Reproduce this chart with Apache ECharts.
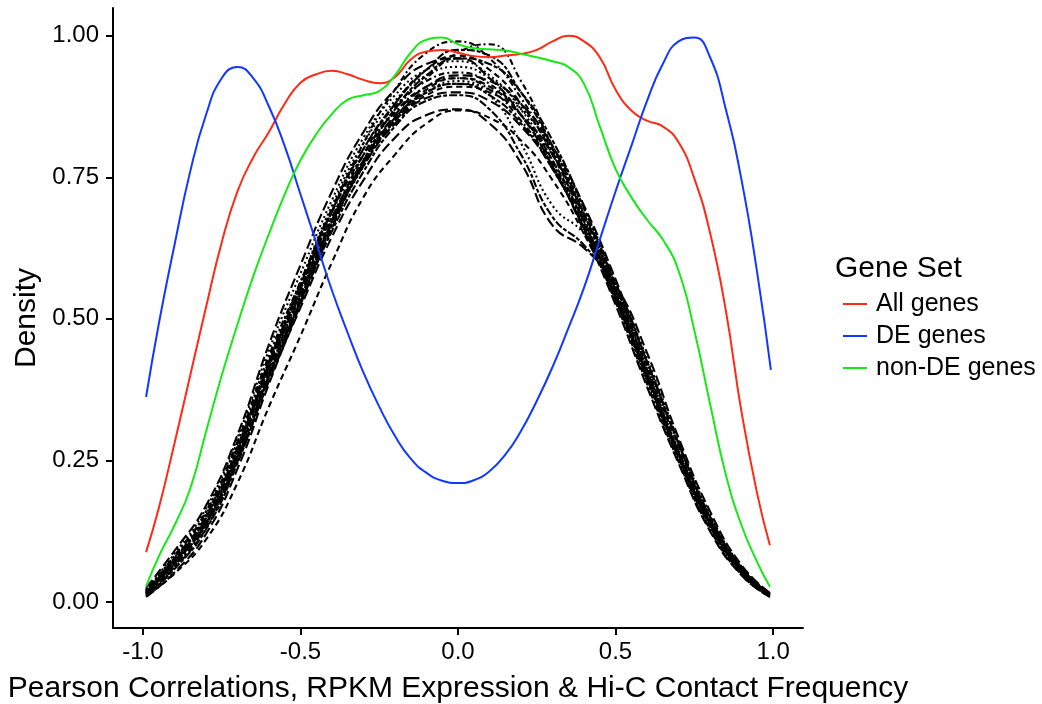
<!DOCTYPE html>
<html><head><meta charset="utf-8">
<script src="https://cdn.jsdelivr.net/npm/echarts@6/dist/echarts.min.js"></script>
<style>html,body{margin:0;padding:0;background:#fff}#c{width:1042px;height:704px}</style>
</head><body><div id="c"></div>
<script>
// X positions of the colored density curves
const allX = [-0.99,-0.95,-0.9,-0.85,-0.8,-0.75,-0.7,-0.65,-0.6,-0.55,-0.5,-0.45,-0.4,-0.35,-0.3,-0.25,-0.2,-0.15,-0.1,-0.05,0,0.05,0.1,0.15,0.2,0.25,0.3,0.35,0.4,0.45,0.5,0.55,0.6,0.65,0.7,0.75,0.8,0.85,0.9,0.95,0.99];
const allGenes = [0.088,0.165,0.28,0.40,0.52,0.635,0.725,0.785,0.83,0.88,0.917,0.932,0.938,0.932,0.922,0.916,0.927,0.958,0.972,0.975,0.97,0.964,0.962,0.965,0.968,0.975,0.99,1.0,0.99,0.962,0.905,0.868,0.85,0.84,0.812,0.748,0.652,0.515,0.335,0.19,0.1];
const nonDEGenes = [0.027,0.08,0.135,0.20,0.30,0.40,0.49,0.575,0.65,0.72,0.78,0.826,0.862,0.887,0.895,0.902,0.93,0.97,0.993,0.997,0.985,0.978,0.976,0.974,0.968,0.962,0.955,0.945,0.915,0.84,0.765,0.715,0.675,0.64,0.585,0.48,0.35,0.225,0.135,0.07,0.027];
const deX = [-0.99,-0.95,-0.9,-0.85,-0.8,-0.75,-0.7,-0.65,-0.6,-0.55,-0.5,-0.45,-0.4,-0.35,-0.3,-0.25,-0.2,-0.15,-0.1,-0.05,0,0.05,0.1,0.15,0.2,0.25,0.3,0.35,0.4,0.45,0.5,0.55,0.6,0.65,0.7,0.75,0.8,0.85,0.9,0.95,0.993];
const deGenes = [0.362,0.49,0.63,0.76,0.86,0.925,0.945,0.925,0.875,0.805,0.72,0.635,0.55,0.475,0.405,0.345,0.293,0.253,0.228,0.214,0.21,0.215,0.231,0.26,0.302,0.355,0.415,0.483,0.555,0.64,0.725,0.805,0.885,0.95,0.99,0.997,0.962,0.87,0.745,0.58,0.41];

// Permutation curves (black, dashed)
const permX = [-0.99,-0.9,-0.8,-0.7,-0.6,-0.5,-0.4,-0.3,-0.2,-0.1,0,0.1,0.2,0.3,0.4,0.5,0.6,0.7,0.8,0.9,0.99];
const perm01 = [0.015,0.07,0.14,0.26,0.41,0.54,0.67,0.775,0.855,0.905,0.925,0.91,0.86,0.78,0.67,0.545,0.40,0.262,0.14,0.055,0.012];
const perm02 = [0.022,0.085,0.165,0.29,0.445,0.58,0.71,0.82,0.895,0.94,0.955,0.93,0.87,0.78,0.665,0.535,0.39,0.252,0.13,0.05,0.01];
const perm03 = [0.012,0.062,0.135,0.255,0.405,0.55,0.69,0.81,0.905,0.97,0.99,0.96,0.89,0.795,0.68,0.55,0.40,0.258,0.138,0.054,0.012];
const perm04 = [0.018,0.072,0.14,0.25,0.39,0.52,0.645,0.745,0.82,0.86,0.87,0.845,0.775,0.665,0.625,0.56,0.44,0.29,0.16,0.065,0.016];
const perm05 = [0.016,0.068,0.138,0.255,0.40,0.53,0.655,0.76,0.84,0.885,0.895,0.87,0.79,0.68,0.63,0.555,0.425,0.28,0.15,0.06,0.014];
const perm06 = [0.01,0.05,0.11,0.21,0.345,0.47,0.60,0.715,0.79,0.845,0.868,0.855,0.815,0.745,0.65,0.535,0.40,0.265,0.145,0.058,0.013];
const perm07 = [0.02,0.078,0.155,0.275,0.425,0.565,0.70,0.81,0.885,0.93,0.945,0.925,0.875,0.795,0.685,0.555,0.41,0.268,0.142,0.056,0.012];
const perm08 = [0.014,0.066,0.142,0.265,0.42,0.56,0.695,0.8,0.875,0.92,0.935,0.915,0.86,0.775,0.66,0.53,0.385,0.248,0.128,0.048,0.009];
const perm09 = [0.025,0.09,0.17,0.295,0.455,0.595,0.725,0.83,0.905,0.95,0.96,0.925,0.86,0.77,0.655,0.525,0.38,0.245,0.125,0.047,0.009];
const perm10 = [0.011,0.058,0.128,0.245,0.395,0.53,0.665,0.78,0.87,0.93,0.96,0.95,0.9,0.815,0.695,0.56,0.41,0.265,0.14,0.055,0.012];
const perm11 = [0.017,0.073,0.148,0.27,0.42,0.55,0.675,0.775,0.85,0.895,0.91,0.9,0.86,0.79,0.685,0.56,0.415,0.275,0.15,0.06,0.014];
const perm12 = [0.013,0.064,0.136,0.252,0.40,0.535,0.665,0.77,0.85,0.9,0.915,0.905,0.87,0.8,0.695,0.565,0.42,0.28,0.152,0.062,0.015];
const perm13 = [0.02,0.08,0.158,0.28,0.43,0.565,0.69,0.79,0.87,0.925,0.97,0.985,0.92,0.8,0.675,0.54,0.395,0.255,0.133,0.051,0.011];
const perm14 = [0.016,0.07,0.145,0.265,0.415,0.545,0.67,0.77,0.845,0.89,0.9,0.885,0.84,0.765,0.66,0.54,0.40,0.265,0.145,0.058,0.013];
const perm15 = [0.019,0.076,0.152,0.272,0.425,0.555,0.68,0.78,0.855,0.9,0.915,0.895,0.845,0.765,0.66,0.535,0.395,0.26,0.138,0.053,0.011];
const perm16 = [0.012,0.06,0.13,0.248,0.398,0.535,0.672,0.79,0.88,0.94,0.965,0.94,0.88,0.79,0.672,0.54,0.395,0.255,0.135,0.052,0.011];
const perm17 = [0.015,0.068,0.14,0.26,0.405,0.54,0.665,0.77,0.85,0.9,0.92,0.895,0.81,0.70,0.65,0.56,0.43,0.285,0.155,0.062,0.015];
const perm18 = [0.021,0.082,0.16,0.283,0.435,0.565,0.69,0.79,0.865,0.91,0.925,0.905,0.85,0.77,0.665,0.54,0.40,0.262,0.138,0.054,0.012];
const perm19 = [0.009,0.052,0.12,0.235,0.385,0.525,0.66,0.775,0.86,0.91,0.93,0.92,0.88,0.805,0.70,0.57,0.425,0.28,0.15,0.06,0.014];
const perm20 = [0.018,0.074,0.15,0.27,0.42,0.555,0.69,0.80,0.88,0.94,0.975,0.965,0.90,0.805,0.685,0.55,0.405,0.262,0.138,0.054,0.012];
const perms = [perm01,perm02,perm03,perm04,perm05,perm06,perm07,perm08,perm09,perm10,perm11,perm12,perm13,perm14,perm15,perm16,perm17,perm18,perm19,perm20];

const xTicks = [-1, -0.5, 0, 0.5, 1];
const xTickLabels = ['-1.0', '-0.5', '0.0', '0.5', '1.0'];
const yTicks = [0, 0.25, 0.5, 0.75, 1];
const yTickLabels = ['0.00', '0.25', '0.50', '0.75', '1.00'];
const seriesNames = ['All genes', 'DE genes', 'non-DE genes'];

const FONT = 'Liberation Sans, Arial, Helvetica, sans-serif';
const dashes = [[6,4],[2,3],[2,3,6,3],[10,4],[4,2,8,2]];
const zip = (xs, ys) => xs.map((x, i) => [x, ys[i]]);
const lbl = (ticks, labels) => v => { const i = ticks.findIndex(t => Math.abs(t - v) < 1e-6); return i < 0 ? '' : labels[i]; };

const series = [];
perms.forEach((p, i) => {
  series.push({
    type: 'line', name: 'perm' + (i + 1), data: zip(permX, p), smooth: 0.5,
    symbol: 'none', silent: true,
    lineStyle: { color: '#000', width: 2.1, type: dashes[i % dashes.length] },
    z: 2
  });
});
const colors = ['#ff2a14', '#1238ff', '#16ea16'];
const colored = [[allX, allGenes], [deX, deGenes], [allX, nonDEGenes]];
colored.forEach(([xs, ys], k) => {
  series.push({ type: 'line', name: seriesNames[k], data: zip(xs, ys), smooth: 0.5, symbol: 'none', lineStyle: { color: colors[k], width: 2 }, itemStyle: { color: colors[k] }, z: 3 });
});

const chart = echarts.init(document.getElementById('c'), null, { renderer: 'canvas' });
chart.setOption({
  animation: false,
  backgroundColor: '#fff',
  textStyle: { fontFamily: FONT },
  grid: { left: 113, right: 239, top: 8, bottom: 76, containLabel: false, outerBoundsMode: 'none' },
  title: { text: 'Gene Set', left: 835, top: 254, padding: 0, textStyle: { fontFamily: FONT, fontSize: 30, fontWeight: 'normal', color: '#000' } },
  legend: {
    data: seriesNames, orient: 'vertical', left: 843, top: 290, padding: 0,
    icon: 'rect', itemWidth: 24, itemHeight: 2, itemGap: 4,
    textStyle: { fontFamily: FONT, fontSize: 25, color: '#000', lineHeight: 28, padding: [0, 0, 0, 4] },
    selectedMode: false
  },
  xAxis: {
    type: 'value', min: -1.095, max: 1.095,
    name: 'Pearson Correlations, RPKM Expression & Hi-C Contact Frequency',
    nameLocation: 'middle', nameGap: 46,
    nameTextStyle: { fontFamily: FONT, fontSize: 30, color: '#000' },
    axisLine: { show: true, onZero: false, lineStyle: { color: '#000', width: 2 } },
    axisTick: { show: true, customValues: xTicks, length: 7, lineStyle: { color: '#000', width: 2 } },
    axisLabel: { customValues: xTicks, formatter: lbl(xTicks, xTickLabels), fontSize: 24, color: '#000', margin: 12, fontFamily: FONT },
    splitLine: { show: false }
  },
  yAxis: {
    type: 'value', min: -0.046, max: 1.049,
    name: 'Density', nameLocation: 'middle', nameGap: 70, nameRotate: 90,
    nameTextStyle: { fontFamily: FONT, fontSize: 30, color: '#000' },
    axisLine: { show: true, onZero: false, lineStyle: { color: '#000', width: 2 } },
    axisTick: { show: true, customValues: yTicks, length: 7, lineStyle: { color: '#000', width: 2 } },
    axisLabel: { customValues: yTicks, formatter: lbl(yTicks, yTickLabels), fontSize: 24, color: '#000', margin: 14, fontFamily: FONT },
    splitLine: { show: false }
  },
  series: series
});
</script>
</body></html>
